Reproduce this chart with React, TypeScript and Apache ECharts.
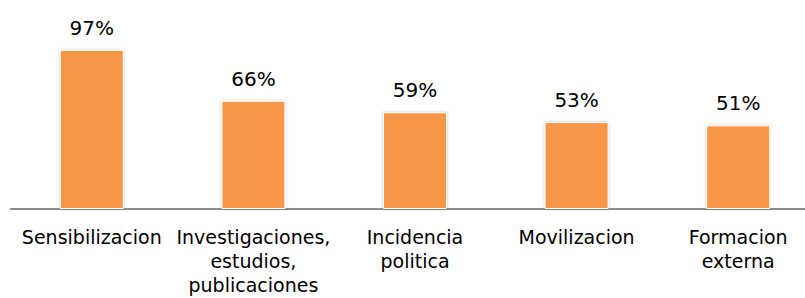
import React, { useEffect, useRef } from "react";
import * as echarts from "echarts";

const categories = [
  "Sensibilizacion",
  "Investigaciones,\nestudios,\npublicaciones",
  "Incidencia\npolitica",
  "Movilizacion",
  "Formacion\nexterna",
];
const values = [97, 66, 59, 53, 51];

export default function App() {
  const ref = useRef<HTMLDivElement>(null);
  useEffect(() => {
    document.body.style.margin = "0";
    document.body.style.overflow = "hidden";
    if (!ref.current) return;
    const chart = echarts.init(ref.current, null, { renderer: "svg" });
    chart.setOption({
      animation: false,
      backgroundColor: "#ffffff",
      grid: { left: 11, right: -14, top: 45, bottom: 89, outerBoundsMode: "none", containLabel: false },
      xAxis: {
        type: "category",
        data: categories,
        axisLine: { show: true, lineStyle: { color: "#8c8c8c", width: 2 } },
        axisTick: { show: false },
        axisLabel: {
          interval: 0,
          color: "#000",
          fontFamily: "DejaVu Sans",
          fontSize: 19,
          lineHeight: 24,
          margin: 16,
          verticalAlign: "top",
        },
      },
      yAxis: {
        type: "value",
        min: 0,
        max: 100,
        show: false,
        splitLine: { show: false },
      },
      series: [
        {
          type: "bar",
          data: values,
          barWidth: 64,
          itemStyle: {
            color: "#F79646",
            borderColor: "#ffffff",
            borderWidth: 1,
            shadowBlur: 3,
            shadowColor: "rgba(0,0,0,0.25)",
          },
          label: {
            show: true,
            position: "top",
            distance: 12,
            formatter: "{c}%",
            color: "#000",
            fontFamily: "DejaVu Sans",
            fontSize: 20,
          },
        },
      ],
    });
    return () => chart.dispose();
  }, []);
  return (
    <div
      ref={ref}
      style={{ position: "absolute", left: 0, top: 0, width: 805, height: 298 }}
    />
  );
}
